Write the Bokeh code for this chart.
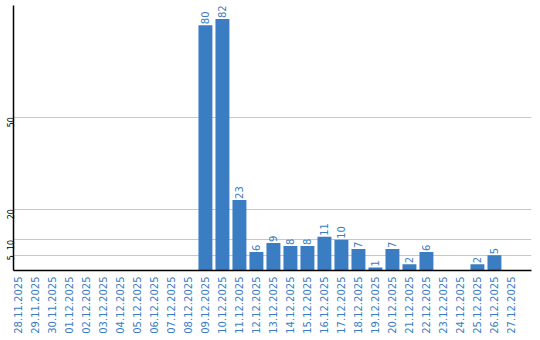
import math
from bokeh.plotting import figure
from bokeh.models import ColumnDataSource, FixedTicker, Range1d, LabelSet
from bokeh.embed import file_html
from bokeh.resources import INLINE
from bokeh.core.properties import value

dates = ["28.11.2025", "29.11.2025", "30.11.2025", "01.12.2025", "02.12.2025",
         "03.12.2025", "04.12.2025", "05.12.2025", "06.12.2025", "07.12.2025",
         "08.12.2025", "09.12.2025", "10.12.2025", "11.12.2025", "12.12.2025",
         "13.12.2025", "14.12.2025", "15.12.2025", "16.12.2025", "17.12.2025",
         "18.12.2025", "19.12.2025", "20.12.2025", "21.12.2025", "22.12.2025",
         "23.12.2025", "24.12.2025", "25.12.2025", "26.12.2025", "27.12.2025"]
counts = [0, 0, 0, 0, 0, 0, 0, 0, 0, 0,
          0, 80, 82, 23, 6, 9, 8, 8, 11, 10,
          7, 1, 7, 2, 6, 0, 0, 2, 5, 0]
y_ticks = [5, 10, 20, 50]

BLUE = "#3b7dc2"
FONT = "DejaVu Sans"

xs = list(range(len(dates)))
src = ColumnDataSource(dict(x=xs, top=counts))
nz = [i for i, c in enumerate(counts) if c > 0]
lab = ColumnDataSource(dict(x=[xs[i] for i in nz], y=[counts[i] for i in nz],
                            t=[str(counts[i]) for i in nz]))

p = figure(width=540, height=340, output_backend="svg", toolbar_location=None,
           x_range=Range1d(-0.29, 30.18), y_range=Range1d(0, 86.4),
           min_border_left=11, min_border_right=9, min_border_top=5, min_border_bottom=70)
p.outline_line_color = None
p.background_fill_color = "white"

p.vbar(x="x", top="top", width=0.82, source=src, fill_color=BLUE, line_color=None)
labels = LabelSet(x="x", y="y", text="t", source=lab, angle=math.pi / 2,
                  text_align="left", text_baseline="middle", x_offset=0, y_offset=1,
                  text_color=BLUE, text_font=value(FONT), text_font_size=value("10px"))
p.add_layout(labels)

p.xgrid.grid_line_color = None
p.ygrid.grid_line_color = "#c8c8c8"
p.ygrid.ticker = FixedTicker(ticks=y_ticks)

p.yaxis.ticker = FixedTicker(ticks=y_ticks)
p.yaxis.major_label_orientation = math.pi / 2
p.yaxis.major_tick_line_color = None
p.yaxis.major_tick_out = 0
p.yaxis.major_tick_in = 0
p.yaxis.minor_tick_line_color = None
p.yaxis.minor_tick_out = 0
p.yaxis.major_label_text_font = FONT
p.yaxis.major_label_text_font_size = "8px"
p.yaxis.major_label_text_color = "black"
p.yaxis.axis_line_color = "black"
p.yaxis.axis_line_width = 1.5
p.yaxis.major_label_standoff = 3

p.xaxis.ticker = FixedTicker(ticks=xs)
p.xaxis.major_label_overrides = {i: d for i, d in enumerate(dates)}
p.xaxis.major_label_orientation = math.pi / 2
p.xaxis.major_tick_line_color = None
p.xaxis.major_tick_out = 0
p.xaxis.major_tick_in = 0
p.xaxis.minor_tick_line_color = None
p.xaxis.minor_tick_out = 0
p.xaxis.major_label_text_font = FONT
p.xaxis.major_label_text_font_size = "10px"
p.xaxis.major_label_text_color = BLUE
p.xaxis.axis_line_color = "black"
p.xaxis.axis_line_width = 1.5
p.xaxis.major_label_standoff = 6

open("out.html", "w").write(file_html(p, INLINE))
